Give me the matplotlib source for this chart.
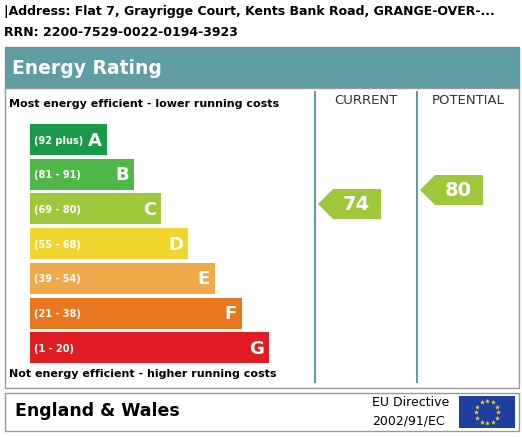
import numpy as np
import matplotlib
matplotlib.use("Agg")
import matplotlib.pyplot as plt
from matplotlib.patches import Rectangle, Polygon

# EPC data
address = "|Address: Flat 7, Grayrigge Court, Kents Bank Road, GRANGE-OVER-..."
rrn = "RRN: 2200-7529-0022-0194-3923"
bands = ["A", "B", "C", "D", "E", "F", "G"]
ranges = ["(92 plus)", "(81 - 91)", "(69 - 80)", "(55 - 68)", "(39 - 54)", "(21 - 38)", "(1 - 20)"]
band_colors = ["#1a9a48", "#4fb748", "#9fc73b", "#efd52c", "#eda94a", "#e8771f", "#e31b23"]
current = 74
potential = 80

W, H = 522, 437
fig = plt.figure(figsize=(W / 100, H / 100), dpi=100)
ax = fig.add_axes([0, 0, 1, 1])
ax.set_xlim(0, W)
ax.set_ylim(H, 0)
ax.axis("off")

teal = "#5e9ea3"
ax.text(4, 12, address, fontsize=9, fontweight="bold", va="center")
ax.text(4, 33, rrn, fontsize=9, fontweight="bold", va="center")

# header
ax.add_patch(Rectangle((5, 47), 514, 41, facecolor=teal, edgecolor="#888888", lw=1))
ax.text(12, 68, "Energy Rating", color="white", fontsize=13.5, fontweight="bold", va="center")

# main box
ax.add_patch(Rectangle((5, 88), 514, 300, facecolor="white", edgecolor="#999999", lw=1))
for x in (315, 417):
    ax.plot([x, x], [92, 382], color=teal, lw=1.5)
ax.text(366, 100, "CURRENT", ha="center", va="center", fontsize=9.5, color="#333333")
ax.text(468, 100, "POTENTIAL", ha="center", va="center", fontsize=9.5, color="#333333")
ax.text(9, 104, "Most energy efficient - lower running costs", fontsize=8, fontweight="bold", va="center")
ax.text(9, 374, "Not energy efficient - higher running costs", fontsize=8, fontweight="bold", va="center")

band_top = 124
band_h = 31
band_gap = 3.7
lows = [92, 81, 69, 55, 39, 21, 1]
for i, (b, r, c) in enumerate(zip(bands, ranges, band_colors)):
    y0 = band_top + i * (band_h + band_gap)
    right = 107 + i * 27
    ax.add_patch(Rectangle((30, y0), right - 30, band_h, facecolor=c, edgecolor="none"))
    ax.text(34, y0 + band_h / 2 + 1, r, color="white", fontsize=7, fontweight="bold", va="center")
    ax.text(right - 5, y0 + band_h / 2 + 1, b, color="white", fontsize=13, fontweight="bold",
            va="center", ha="right")


def band_index(v):
    for i, lo in enumerate(lows):
        if v >= lo:
            return i
    return len(lows) - 1


def arrow(x0, value, y_center):
    idx = band_index(value)
    pts = [(x0 + 3, y_center), (x0 + 18, y_center - 15), (x0 + 66, y_center - 15),
           (x0 + 66, y_center + 15), (x0 + 18, y_center + 15)]
    ax.add_patch(Polygon(pts, closed=True, facecolor=band_colors[idx], edgecolor="none"))
    ax.text(x0 + 41, y_center + 1, str(value), color="white", fontsize=14, fontweight="bold",
            ha="center", va="center")


arrow(315, current, 204)
arrow(417, potential, 190)

# footer
ax.add_patch(Rectangle((5, 393), 514, 38, facecolor="white", edgecolor="#999999", lw=1))
ax.text(15, 411, "England & Wales", fontsize=12.5, fontweight="bold", va="center")
ax.text(372, 403, "EU Directive", fontsize=9, va="center")
ax.text(372, 421, "2002/91/EC", fontsize=9, va="center")
ax.add_patch(Rectangle((459, 396), 56, 32, facecolor="#1f3f9e", edgecolor="none"))
ang = np.linspace(0, 2 * np.pi, 13)[:-1]
ax.scatter(487 + 11 * np.cos(ang), 412 + 11 * np.sin(ang), marker="*", s=14,
           color="#ffdd00", linewidths=0)

fig.savefig("out.png", dpi=100)
